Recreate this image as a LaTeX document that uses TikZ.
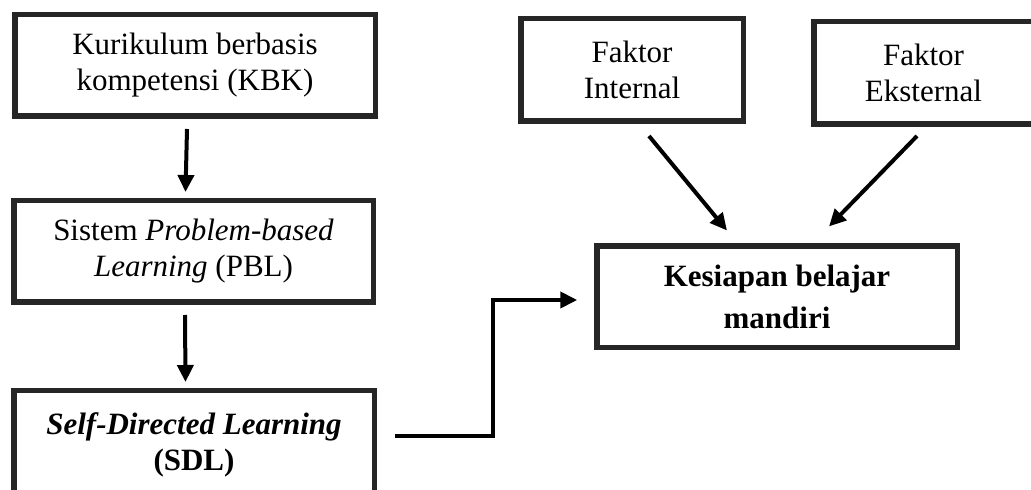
\documentclass[tikz,border=0pt]{standalone}
\usepackage{fontspec}
\setmainfont{Liberation Serif}
\usetikzlibrary{positioning}
\usetikzlibrary{arrows.meta}
\definecolor{boxgray}{HTML}{262626}

\begin{document}
\begin{tikzpicture}[x=1pt, y=1pt]
% tikz settings
\fontsize{31}{36}\selectfont
\tikzstyle{block} = [rectangle, draw=boxgray, line width=5.5pt,
    align=center, inner sep=0pt]
\tikzstyle{line} = [draw, line width=4pt, -{Triangle[length=17pt, width=16pt]}]
\useasboundingbox (0,0) rectangle (1031,490);

% the tikz picture
\node [block, minimum width=360.5pt, minimum height=101.5pt] (kbk) at (195,424.5)
    {Kurikulum berbasis \\ kompetensi (KBK)};
\node [block, minimum width=359.5pt, minimum height=101.5pt] (pbl) at (193.5,238.5)
    {Sistem \textit{Problem-based} \\ \textit{Learning} (PBL)};
\node [block, minimum width=360.5pt, minimum height=108.5pt, font=\bfseries] (sdl) at (194,45)
    {\textit{Self-Directed Learning} \\ (SDL)};
\node [block, minimum width=222.5pt, minimum height=102.5pt] (intern) at (632,420)
    {Faktor \\ Internal};
\node [block, minimum width=219.5pt, minimum height=102.5pt] (ekstern) at (923.5,417)
    {Faktor \\ Eksternal};
\node [block, minimum width=360.5pt, minimum height=101.5pt, font=\bfseries,
    execute at begin node={\setlength{\baselineskip}{42pt}}] (kesiapan) at (777,193)
    {Kesiapan belajar \\ mandiri};

\coordinate (sdlout) at (395,54);
\coordinate (bend) at (493,54);

\path [line] ([xshift=-8pt]kbk.south) ++(0,-10) -- ([xshift=-8pt,yshift=6pt]pbl.north);
\path [line] ([xshift=-8.5pt]pbl.south) ++(0,-10) -- ([xshift=-8.5pt,yshift=6pt]sdl.north);
\path [line] ([xshift=17pt,yshift=-12pt]intern.south) -- ([xshift=-50pt,yshift=13pt]kesiapan.north);
\path [line] ([xshift=-6.5pt,yshift=-9pt]ekstern.south) -- ([xshift=52pt,yshift=17pt]kesiapan.north);
\path [line, shorten >=16.75pt] (sdlout) -- (bend) |- ([yshift=-3pt]kesiapan.west);
\end{tikzpicture}
\end{document}
